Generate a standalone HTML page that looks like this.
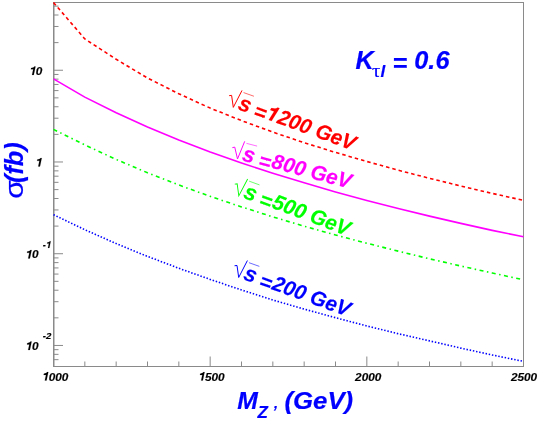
<!DOCTYPE html>
<html><head><meta charset="utf-8"><title>sigma vs MZ'</title>
<style>html,body{margin:0;padding:0;background:#fff;}svg{display:block;will-change:transform;}text{font-family:"Liberation Sans",sans-serif;font-weight:bold;font-style:italic;}.sym{font-weight:normal;font-style:normal;}.ser{font-family:"Liberation Serif",serif;}</style></head><body>
<svg width="545" height="422" viewBox="0 0 545 422">
<rect x="0" y="0" width="545" height="422" fill="#ffffff"/>
<rect x="53.5" y="2.5" width="470.0" height="364.0" fill="none" stroke="#8a8a8a" stroke-width="1"/>
<line x1="53.8" y1="2.5" x2="53.8" y2="366.5" stroke="#8a8a8a" stroke-width="1.4"/>
<path d="M53.5 359.67h5M53.5 354.35h5M53.5 349.66h5M53.5 345.46h9.5M53.5 317.84h5M53.5 301.69h5M53.5 290.23h5M53.5 281.34h5M53.5 274.07h5M53.5 267.93h5M53.5 262.61h5M53.5 257.92h5M53.5 253.72h9.5M53.5 226.10h5M53.5 209.95h5M53.5 198.49h5M53.5 189.60h5M53.5 182.33h5M53.5 176.19h5M53.5 170.87h5M53.5 166.18h5M53.5 161.98h9.5M53.5 134.36h5M53.5 118.21h5M53.5 106.75h5M53.5 97.86h5M53.5 90.59h5M53.5 84.45h5M53.5 79.13h5M53.5 74.44h5M53.5 70.24h9.5M53.5 42.62h5M53.5 26.47h5M53.5 15.01h5M53.5 6.12h5M84.83 366.5v-5M116.17 366.5v-5M147.50 366.5v-5M178.83 366.5v-5M210.17 366.5v-10M241.50 366.5v-5M272.83 366.5v-5M304.17 366.5v-5M335.50 366.5v-5M366.83 366.5v-10M398.17 366.5v-5M429.50 366.5v-5M460.83 366.5v-5M492.17 366.5v-5" fill="none" stroke="#8a8a8a" stroke-width="1"/>
<path d="M53.5 2.50 L84.8 38.90 L116.2 59.30 L147.5 78.00 L178.8 93.80 L210.2 108.10 L241.5 120.60 L272.8 132.10 L304.2 142.70 L335.5 152.40 L366.8 161.50 L398.2 170.20 L429.5 178.30 L460.8 186.00 L492.2 193.40 L523.5 200.40" fill="none" stroke="#ff0000" stroke-width="1.6" stroke-dasharray="3.5 3" stroke-linejoin="round"/>
<path d="M53.5 78.90 L84.8 97.10 L116.2 112.80 L147.5 127.10 L178.8 140.10 L210.2 152.05 L241.5 163.00 L272.8 173.20 L304.2 182.80 L335.5 191.90 L366.8 200.40 L398.2 208.50 L429.5 216.10 L460.8 223.40 L492.2 230.40 L523.5 236.70" fill="none" stroke="#ff00ff" stroke-width="1.6" stroke-linejoin="round"/>
<path d="M53.5 129.40 L84.8 144.90 L116.2 159.45 L147.5 172.75 L178.8 185.00 L210.2 196.35 L241.5 206.90 L272.8 216.85 L304.2 226.20 L335.5 235.00 L366.8 243.25 L398.2 251.15 L429.5 258.80 L460.8 266.00 L492.2 273.00 L523.5 279.80" fill="none" stroke="#00ff00" stroke-width="1.6" stroke-dasharray="4 3.5 1.5 3.5" stroke-linejoin="round"/>
<path d="M53.5 214.70 L84.8 229.70 L116.2 243.60 L147.5 256.40 L178.8 268.25 L210.2 279.40 L241.5 290.00 L272.8 300.00 L304.2 309.10 L335.5 317.70 L366.8 325.95 L398.2 333.70 L429.5 340.85 L460.8 348.10 L492.2 355.00 L523.5 361.40" fill="none" stroke="#0000ff" stroke-width="1.6" stroke-dasharray="1.45 1.8" stroke-linejoin="round"/>
<g fill="#000" stroke="#000" stroke-width="0.15" font-size="11.8px">
<path transform="translate(29.30 74.90) scale(0.01180)" d="M232 0L378 0L528.9 -710L430 -710C400 -640 310 -590 155 -578L133 -470L332 -470Z" vector-effect="non-scaling-stroke"/><text x="35.86" y="74.9" font-size="11.8px">0</text>
<path transform="translate(35.50 166.40) scale(0.01180)" d="M232 0L378 0L528.9 -710L430 -710C400 -640 310 -590 155 -578L133 -470L332 -470Z" vector-effect="non-scaling-stroke"/>
<path transform="translate(25.40 258.40) scale(0.01180)" d="M232 0L378 0L528.9 -710L430 -710C400 -640 310 -590 155 -578L133 -470L332 -470Z" vector-effect="non-scaling-stroke"/><text x="31.96" y="258.4" font-size="11.8px">0</text><text x="42.70" y="247.9" font-size="9.3px">-</text><path transform="translate(45.80 247.90) scale(0.00930)" d="M232 0L378 0L528.9 -710L430 -710C400 -640 310 -590 155 -578L133 -470L332 -470Z" vector-effect="non-scaling-stroke"/>
<path transform="translate(25.40 350.00) scale(0.01180)" d="M232 0L378 0L528.9 -710L430 -710C400 -640 310 -590 155 -578L133 -470L332 -470Z" vector-effect="non-scaling-stroke"/><text x="31.96" y="350.0" font-size="11.8px">0</text><text x="42.70" y="339.3" font-size="9.6px">-2</text>
<path transform="translate(42.08 380.50) scale(0.01180)" d="M232 0L378 0L528.9 -710L430 -710C400 -640 310 -590 155 -578L133 -470L332 -470Z" vector-effect="non-scaling-stroke"/><text x="48.64" y="380.5" font-size="11.8px">000</text>
<path transform="translate(198.38 380.50) scale(0.01180)" d="M232 0L378 0L528.9 -710L430 -710C400 -640 310 -590 155 -578L133 -470L332 -470Z" vector-effect="non-scaling-stroke"/><text x="204.94" y="380.5" font-size="11.8px">500</text>
<text x="355.08" y="380.5" font-size="11.8px">2000</text>
<text x="510.88" y="380.5" font-size="11.8px">2500</text>
</g>
<g fill="#0000ff" stroke="#0000ff" stroke-width="0.2" font-size="25.3px">
<text x="237.2" y="409.2" font-size="24.7px">M</text><text x="257.6" y="417.6" font-size="17px">Z</text><text x="272.4" y="416.2" font-size="15px">’</text><text transform="translate(284.4 409.2) scale(1.045 1)" font-size="24.7px">(GeV)</text>
<text x="355.5" y="68.7">K</text><text class="sym ser" transform="translate(372.1 77.1) scale(1.15 1)" font-size="18px">τ</text><text x="380.5" y="77" font-size="17px">l</text><text x="392.5" y="71.7">=</text><text x="414.3" y="68.7">0.6</text>
<g transform="translate(23 198.8) rotate(-90)"><text class="sym" transform="scale(1.2 1)" x="0" y="0">σ</text><text x="15.8" y="0">(fb)</text></g>
</g>
<g transform="translate(233.3 106.2) rotate(20)" fill="#ff0000" stroke="#ff0000" stroke-width="0.15" font-size="21px">
<path d="M-7.5 -8.5 L-5.3 -9.6 L0.4 1.1 L2.8 -17.8" fill="none" stroke="#ff0000" stroke-width="0.9"/>
<path d="M5 -16.3 L16 -16.4" fill="none" stroke="#ff0000" stroke-width="0.7" stroke-opacity="0.75"/>
<text x="4.4" y="1.3" font-size="22px">s</text><text x="21.4" y="3.4">=</text><g transform="translate(34.6 0.9) scale(0.982 1)"><path transform="translate(-1.40 0.00) scale(0.02100)" d="M232 0L378 0L528.9 -710L430 -710C400 -640 310 -590 155 -578L133 -470L332 -470Z" vector-effect="non-scaling-stroke"/><text x="11.68" y="0">200 GeV</text></g>
</g>
<g transform="translate(237.4 157.8) rotate(15)" fill="#ff00ff" stroke="#ff00ff" stroke-width="0.15" font-size="21px">
<path d="M-7.5 -8.5 L-5.3 -9.6 L0.4 1.1 L2.8 -17.8" fill="none" stroke="#ff00ff" stroke-width="0.9"/>
<path d="M5 -16.3 L16 -16.4" fill="none" stroke="#ff00ff" stroke-width="0.7" stroke-opacity="0.75"/>
<text x="4.4" y="1.3" font-size="22px">s</text><text x="21.4" y="3.4">=</text><g transform="translate(34.6 0.9) scale(0.982 1)"><text>800 GeV</text></g>
</g>
<g transform="translate(238.8 194.7) rotate(20.4)" fill="#00ff00" stroke="#00ff00" stroke-width="0.15" font-size="21px">
<path d="M-7.5 -8.5 L-5.3 -9.6 L0.4 1.1 L2.8 -17.8" fill="none" stroke="#00ff00" stroke-width="0.9"/>
<path d="M5 -16.3 L16 -16.4" fill="none" stroke="#00ff00" stroke-width="0.7" stroke-opacity="0.75"/>
<text x="4.4" y="1.3" font-size="22px">s</text><text x="21.4" y="3.4">=</text><g transform="translate(34.6 0.9) scale(0.982 1)"><text>500 GeV</text></g>
</g>
<g transform="translate(238.7 276.3) rotate(20)" fill="#0000ff" stroke="#0000ff" stroke-width="0.15" font-size="21px">
<path d="M-7.5 -8.5 L-5.3 -9.6 L0.4 1.1 L2.8 -17.8" fill="none" stroke="#0000ff" stroke-width="0.9"/>
<path d="M5 -16.3 L16 -16.4" fill="none" stroke="#0000ff" stroke-width="0.7" stroke-opacity="0.75"/>
<text x="4.4" y="1.3" font-size="22px">s</text><text x="21.4" y="3.4">=</text><g transform="translate(34.6 0.9) scale(0.982 1)"><text>200 GeV</text></g>
</g>
</svg></body></html>
